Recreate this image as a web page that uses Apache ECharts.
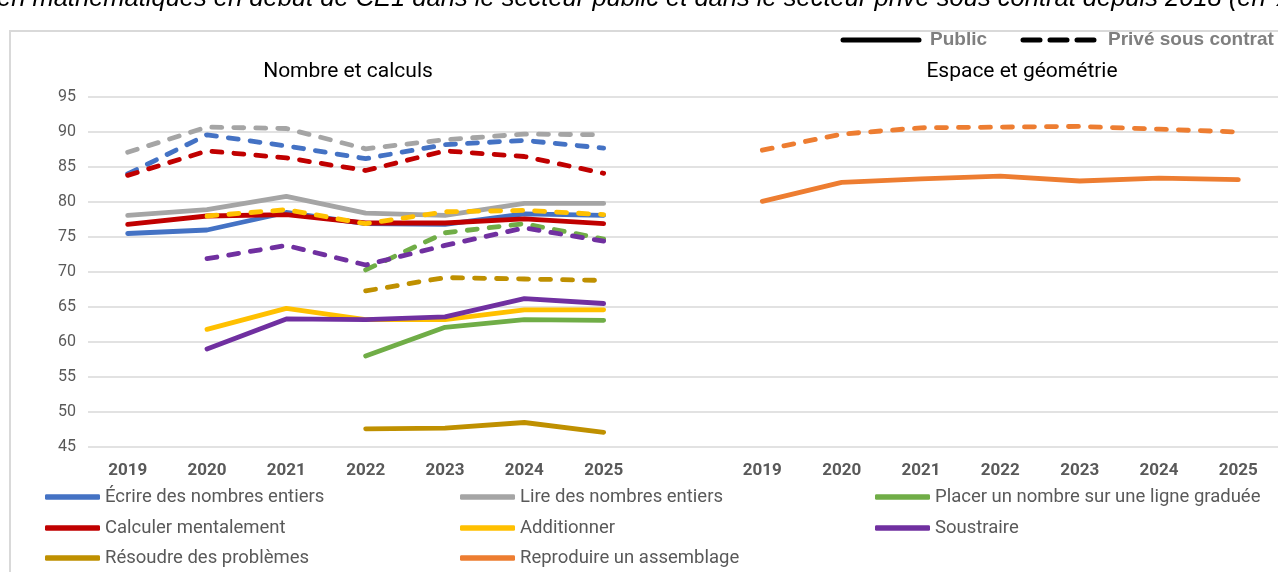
<!DOCTYPE html>
<html>
<head>
<meta charset="utf-8">
<script src="https://cdn.jsdelivr.net/npm/echarts@6/dist/echarts.min.js"></script>
<style>
  html, body { margin: 0; padding: 0; background: #fff; }
  #chart { width: 1278px; height: 572px; }
</style>
</head>
<body>
<div id="chart"></div>
<script>
// two panels side by side on one axis, separated by an empty slot
var years = ['2019', '2020', '2021', '2022', '2023', '2024', '2025'];
var categories = years.concat(['']).concat(years);
var yTicks = { min: 45, max: 95, step: 5 };

// Nombre et calculs : public / privé sous contrat
var ecrirePublic = [75.5, 76.0, 78.5, 76.9, 76.8, 78.3, 78.1];
var ecrirePrive = [84.0, 89.6, 88.0, 86.2, 88.2, 88.8, 87.7];
var lirePublic = [78.1, 78.9, 80.8, 78.4, 78.1, 79.8, 79.8];
var lirePrive = [87.1, 90.7, 90.5, 87.6, 88.9, 89.7, 89.6];
var placerPublic = [null, null, null, 58.0, 62.1, 63.2, 63.1];
var placerPrive = [null, null, null, 70.3, 75.6, 76.9, 74.7];
var calculerPublic = [76.8, 78.0, 78.2, 77.0, 77.0, 77.6, 76.9];
var calculerPrive = [83.8, 87.3, 86.3, 84.5, 87.3, 86.5, 84.1];
var additionnerPublic = [null, 61.8, 64.8, 63.2, 63.2, 64.6, 64.6];
var additionnerPrive = [null, 78.0, 78.9, 76.9, 78.6, 78.8, 78.2];
var soustrairePublic = [null, 59.0, 63.3, 63.2, 63.6, 66.2, 65.5];
var soustrairePrive = [null, 71.9, 73.8, 71.0, 73.8, 76.3, 74.4];
var resoudrePublic = [null, null, null, 47.6, 47.7, 48.5, 47.1];
var resoudrePrive = [null, null, null, 67.3, 69.2, 69.0, 68.8];

// Espace et géométrie
var reproduirePublic = [80.1, 82.8, 83.3, 83.7, 83.0, 83.4, 83.2];
var reproduirePrive = [87.4, 89.7, 90.6, 90.7, 90.8, 90.4, 90.0];

var gap = [null, null, null, null, null, null, null, null];
function left(arr) { return arr.concat(gap); }
function right(arr) { return gap.concat(arr); }

var dash = [10, 12];
function line(name, color, data, dashed) {
    return {
        name: name,
        type: 'line',
        data: data,
        symbol: 'none',
        color: color,
        lineStyle: {
            color: color,
            width: 4.8,
            type: dashed ? dash : 'solid',
            cap: 'round',
            join: 'round'
        },
        emphasis: { disabled: true }
    };
}

// bottom legend, one block per entry (3 columns x 3 rows)
var legendText = { color: '#595959', fontSize: 18.5, fontFamily: 'Roboto', lineHeight: 20 };
var legendCols = [45, 460, 875];
var legendRows = [487, 518, 548];
var legendNames = [
    ['Écrire des nombres entiers', 'Lire des nombres entiers', 'Placer un nombre sur une ligne graduée'],
    ['Calculer mentalement', 'Additionner', 'Soustraire'],
    ['Résoudre des problèmes', 'Reproduire un assemblage']
];
var legends = [];
legendNames.forEach(function (row, r) {
    row.forEach(function (name, c) {
        legends.push({
            data: [name],
            left: legendCols[c],
            top: legendRows[r],
            padding: 0,
            icon: 'roundRect',
            itemWidth: 55,
            itemHeight: 5.5,
            textStyle: legendText
        });
    });
});

var keyText = { fill: '#7f7f7f', fontSize: 19, fontWeight: 'bold', fontFamily: 'Liberation Sans', verticalAlign: 'middle' };

var myChart = echarts.init(document.getElementById('chart'));
var option = {
    animation: false,
    backgroundColor: '#fff',
    textStyle: { fontFamily: 'Roboto' },
    graphic: [
        {
            type: 'rect',
            z: -10,
            shape: { x: 10, y: 31, width: 1300, height: 600 },
            style: { fill: 'none', stroke: '#d9d9d9', lineWidth: 2 }
        },
        // line style key (Public / Privé sous contrat)
        {
            type: 'line',
            shape: { x1: 843, y1: 40, x2: 919, y2: 40 },
            style: { stroke: '#000', lineWidth: 5, lineCap: 'round' }
        },
        {
            type: 'text', x: 930, y: 40,
            style: Object.assign({ text: 'Public' }, keyText)
        },
        {
            type: 'line',
            shape: { x1: 1023, y1: 40, x2: 1095, y2: 40 },
            style: { stroke: '#000', lineWidth: 5, lineCap: 'round', lineDash: [17, 10] }
        },
        {
            type: 'text', x: 1108, y: 40,
            style: Object.assign({ text: 'Privé sous contrat' }, keyText)
        }
    ],
    title: [
        {
            text: 'en mathématiques en début de CE1 dans le secteur public et dans le secteur privé sous contrat depuis 2018 (en %)',
            left: -3,
            top: -14,
            padding: 0,
            textStyle: { fontSize: 25.5, fontStyle: 'italic', fontWeight: 'normal', color: '#000', fontFamily: 'Liberation Sans' }
        },
        {
            text: 'Nombre et calculs',
            left: 348,
            top: 61,
            textAlign: 'center',
            padding: 0,
            textStyle: { fontSize: 21, fontWeight: 'normal', color: '#000' }
        },
        {
            text: 'Espace et géométrie',
            left: 1022,
            top: 61,
            textAlign: 'center',
            padding: 0,
            textStyle: { fontSize: 21, fontWeight: 'normal', color: '#000' }
        }
    ],
    legend: legends,
    grid: { left: 88, right: 0, top: 97, bottom: 125 },
    xAxis: {
        type: 'category',
        data: categories,
        boundaryGap: true,
        axisLine: { show: false },
        axisTick: { show: false },
        axisLabel: { color: '#595959', fontSize: 17, fontWeight: 'bold', margin: 15, interval: 0 }
    },
    yAxis: {
        type: 'value',
        min: yTicks.min,
        max: yTicks.max,
        interval: yTicks.step,
        axisLine: { show: false },
        axisTick: { show: false },
        splitLine: { lineStyle: { color: '#d9d9d9', width: 1.5 } },
        axisLabel: { color: '#595959', fontSize: 16, margin: 12 }
    },
    series: [
        line('Écrire des nombres entiers', '#4472C4', left(ecrirePublic), false),
        line('Lire des nombres entiers', '#A5A5A5', left(lirePublic), false),
        line('Placer un nombre sur une ligne graduée', '#70AD47', left(placerPublic), false),
        line('Calculer mentalement', '#C00000', left(calculerPublic), false),
        line('Additionner', '#FFC000', left(additionnerPublic), false),
        line('Soustraire', '#7030A0', left(soustrairePublic), false),
        line('Résoudre des problèmes', '#BF9000', left(resoudrePublic), false),
        line('Reproduire un assemblage', '#ED7D31', right(reproduirePublic), false),
        line('Écrire des nombres entiers', '#4472C4', left(ecrirePrive), true),
        line('Lire des nombres entiers', '#A5A5A5', left(lirePrive), true),
        line('Placer un nombre sur une ligne graduée', '#70AD47', left(placerPrive), true),
        line('Calculer mentalement', '#C00000', left(calculerPrive), true),
        line('Additionner', '#FFC000', left(additionnerPrive), true),
        line('Soustraire', '#7030A0', left(soustrairePrive), true),
        line('Résoudre des problèmes', '#BF9000', left(resoudrePrive), true),
        line('Reproduire un assemblage', '#ED7D31', right(reproduirePrive), true)
    ]
};
myChart.setOption(option);
</script>
</body>
</html>
